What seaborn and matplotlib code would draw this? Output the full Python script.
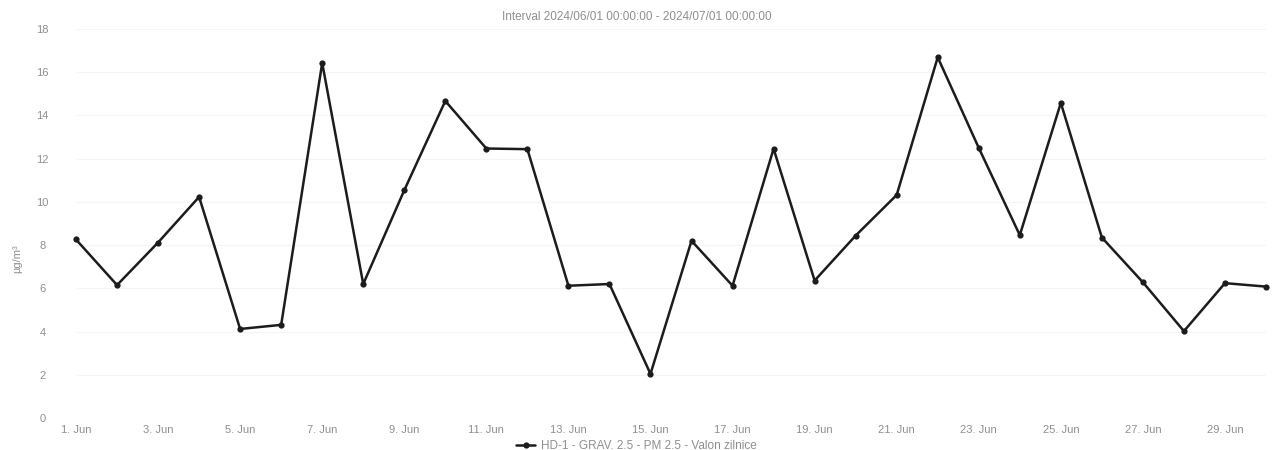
"""
plot.py -
    Daily PM 2.5 gravimetric values for June 2024 drawn as a simple line chart.
"""

import pandas as pd
import seaborn as sns
import matplotlib.pyplot as plt

# Data
days = pd.date_range("2024-06-01", "2024-06-30", freq="D")
pm25 = [8.26, 6.15, 8.12, 10.23, 4.12, 4.31, 16.43, 6.2, 10.54, 14.67,
        12.47, 12.44, 6.12, 6.2, 2.04, 8.2, 6.12, 12.46, 6.36, 8.44,
        10.32, 16.69, 12.5, 8.46, 14.58, 8.35, 6.28, 4.02, 6.24, 6.08]
y_ticks = [0, 2, 4, 6, 8, 10, 12, 14, 16, 18]
x_tick_days = days[::2]
series_name = "HD-1 - GRAV. 2.5 - PM 2.5 - Valon zilnice"
title = "Interval 2024/06/01 00:00:00 - 2024/07/01 00:00:00"

sns.set_theme(style="white")
plt.rcParams["font.family"] = ["Liberation Sans", "DejaVu Sans"]

df = pd.DataFrame({"day": days, "value": pm25})

fig = plt.figure(figsize=(12.73, 4.5), dpi=100)
ax = fig.add_axes([76 / 1273, 32 / 450, (1266 - 76) / 1273, 389 / 450])

# Very faint horizontal grid, as in the scan
for v in y_ticks[1:]:
    ax.axhline(v, color="#f5f5f5", linewidth=0.8, zorder=0)

sns.lineplot(data=df, x="day", y="value", ax=ax, color="#1c1c1c",
             linewidth=1.8, marker="o", markersize=4.5, markeredgewidth=0,
             label=series_name, clip_on=False, legend=False)

ax.set_xlim(days[0], days[-1])
ax.set_ylim(0, 18)
ax.set_yticks(y_ticks)
ax.set_xticks(x_tick_days)
ax.set_xticklabels([f"{d.day}. Jun" for d in x_tick_days])

ax.tick_params(axis="x", length=0, pad=5, labelsize=8, labelcolor="#8f8f8f")
ax.tick_params(axis="y", length=0, pad=24, labelsize=8, labelcolor="#8f8f8f")
for lab in ax.get_yticklabels():
    lab.set_horizontalalignment("center")

for spine in ax.spines.values():
    spine.set_visible(False)

ax.set_xlabel("")
ax.set_ylabel("µg/m³", color="#8f8f8f", fontsize=8, labelpad=12)
ax.yaxis.set_label_coords(-54 / 1190, 0.41)

fig.text(0.5, 0.962, title, ha="center", va="center", fontsize=8.5,
         color="#8f8f8f")

handles, labels = ax.get_legend_handles_labels()
fig.legend(handles, [series_name], loc="lower center",
           bbox_to_anchor=(0.5, -0.009), frameon=False, fontsize=8.5,
           labelcolor="#8f8f8f", handlelength=1.6, handletextpad=0.5,
           borderpad=0.15, borderaxespad=0.0)

plt.savefig("out.png", dpi=100)
plt.close()
